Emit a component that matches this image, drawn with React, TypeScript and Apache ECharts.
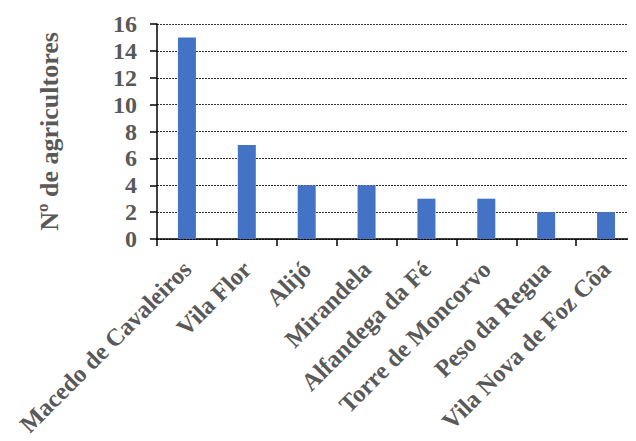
import React, { useEffect, useRef } from "react";
import * as echarts from "echarts";

const municipios = [
  "Macedo de Cavaleiros",
  "Vila Flor",
  "Alijó",
  "Mirandela",
  "Alfandega da Fé",
  "Torre de Moncorvo",
  "Peso da Regua",
  "Vila Nova de Foz Côa",
];
const agricultores = [15, 7, 4, 4, 3, 3, 2, 2];
const yTitulo = "Nº de agricultores";

const FONT = "Liberation Serif";
const GREY = "#595959";

export default function App() {
  const ref = useRef<HTMLDivElement>(null);

  useEffect(() => {
    if (!ref.current) return;
    const chart = echarts.init(ref.current, null, { renderer: "svg" });
    chart.setOption({
      animation: false,
      backgroundColor: "#ffffff",
      grid: {
        left: 157,
        right: 0,
        top: 24,
        bottom: 202,
        containLabel: false,
        outerBoundsMode: "none",
      },
      xAxis: {
        type: "category",
        data: municipios,
        axisLine: { show: true, lineStyle: { color: "#000", width: 1.5 } },
        axisTick: { show: true, length: 7, alignWithLabel: false, lineStyle: { color: "#000", width: 1.5 } },
        axisLabel: {
          rotate: 45,
          interval: 0,
          margin: 26,
          color: GREY,
          fontFamily: FONT,
          fontWeight: "bold",
          fontSize: 24.5,
        },
        splitLine: { show: false },
      },
      yAxis: {
        type: "value",
        min: 0,
        max: 16,
        interval: 2,
        name: yTitulo,
        nameLocation: "middle",
        nameRotate: 90,
        nameGap: 95,
        nameTextStyle: {
          color: GREY,
          fontFamily: FONT,
          fontWeight: "bold",
          fontSize: 26,
        },
        axisLine: { show: true, lineStyle: { color: "#000", width: 1.5 } },
        axisTick: { show: true, length: 7, lineStyle: { color: "#000", width: 1.5 } },
        axisLabel: {
          margin: 20,
          color: GREY,
          fontFamily: FONT,
          fontWeight: "bold",
          fontSize: 24,
        },
        splitLine: {
          show: true,
          lineStyle: { color: "#333", type: [2, 1], width: 1 },
        },
      },
      series: [
        {
          type: "bar",
          data: agricultores,
          barWidth: 18,
          itemStyle: { color: "#4472C4" },
        },
      ],
    });
    return () => chart.dispose();
  }, []);

  return <div ref={ref} style={{ width: 636, height: 441, margin: -8 }} />;
}
